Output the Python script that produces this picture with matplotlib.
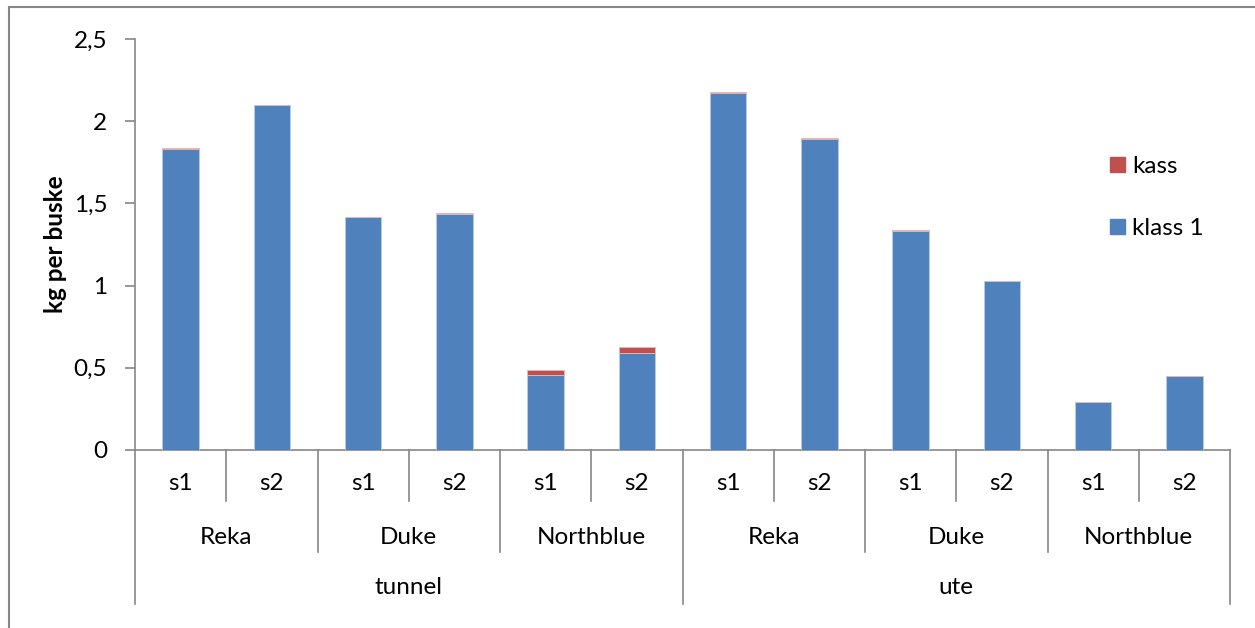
import matplotlib
matplotlib.use("Agg")
import matplotlib.pyplot as plt
from matplotlib.patches import Patch, Rectangle
from matplotlib.ticker import FuncFormatter

plt.rcParams["font.family"] = ["Lato", "DejaVu Sans"]

# data
sorter = ["s1", "s2"] * 6
varieties = ["Reka", "Duke", "Northblue", "Reka", "Duke", "Northblue"]
sites = ["tunnel", "ute"]
klass1 = [1.83, 2.10, 1.415, 1.435, 0.455, 0.59,
          2.17, 1.89, 1.335, 1.025, 0.29, 0.45]
kass = [0.008, 0.0, 0.005, 0.006, 0.032, 0.035,
        0.01, 0.008, 0.006, 0.005, 0.0, 0.003]

BLUE = "#4F81BD"
RED = "#C0504D"
GRAY = "#868686"
FS = 17.5
W, H = 1255, 628

fig = plt.figure(figsize=(W / 100, H / 100), dpi=100)
ax = fig.add_axes([135 / W, 1 - 450 / H, (1230 - 135) / W, (450 - 39) / H])

x = list(range(len(klass1)))
ax.bar(x, klass1, width=0.4, color=BLUE, edgecolor="#B9CDE5", linewidth=0.6,
       label="klass 1", zorder=3)
ax.bar(x, kass, width=0.4, bottom=klass1, color=RED, edgecolor="#E6B9B8",
       linewidth=0.6, label="kass", zorder=3)

ax.set_xlim(-0.5, len(x) - 0.5)
ax.set_ylim(0, 2.5)
ax.set_yticks([0, 0.5, 1, 1.5, 2, 2.5])
ax.yaxis.set_major_formatter(FuncFormatter(lambda v, p: f"{v:g}".replace(".", ",")))
ax.tick_params(axis="y", length=7, width=1.2, color=GRAY, labelsize=FS, pad=13)
ax.set_xticks([])
for s in ("top", "right"):
    ax.spines[s].set_visible(False)
for s in ("left", "bottom"):
    ax.spines[s].set_color(GRAY)
    ax.spines[s].set_linewidth(1.2)

ax.set_ylabel("kg per buske", fontsize=FS, fontweight="bold", labelpad=5)

# multi-level category axis below the plot
px = 1 / (450 - 39)          # one pixel in axes fraction
tr = ax.get_xaxis_transform()
for i in range(len(x) + 1):
    if i % 6 == 0:
        depth = 154
    elif i % 2 == 0:
        depth = 102
    else:
        depth = 51
    ax.plot([i - 0.5, i - 0.5], [0, -depth * px], color=GRAY, lw=1.2,
            transform=tr, clip_on=False)

for i, s in enumerate(sorter):
    ax.text(i, -33 * px, s, transform=tr, ha="center", va="center", fontsize=FS)
for j, v in enumerate(varieties):
    ax.text(2 * j + 0.5, -87 * px, v, transform=tr, ha="center", va="center",
            fontsize=FS)
for k, s in enumerate(sites):
    ax.text(6 * k + 2.5, -137 * px, s, transform=tr, ha="center", va="center",
            fontsize=FS)

# legend, kass on top
handles = [Patch(color=RED, label="kass"), Patch(color=BLUE, label="klass 1")]
fig.legend(handles=handles, loc="upper left",
           bbox_to_anchor=(1110 / W, 1 - 156 / H), frameon=False,
           fontsize=FS, handlelength=0.6, handleheight=0.6,
           handletextpad=0.3, labelspacing=1.68, borderaxespad=0,
           borderpad=0)

# chart area border (only top and left edges inside the crop)
fig.patches.append(Rectangle((9 / W, -0.1), 1.2, 1 - 7 / H + 0.1,
                             transform=fig.transFigure, fill=False,
                             edgecolor=GRAY, lw=1.5))

fig.savefig("out.png", dpi=100)
